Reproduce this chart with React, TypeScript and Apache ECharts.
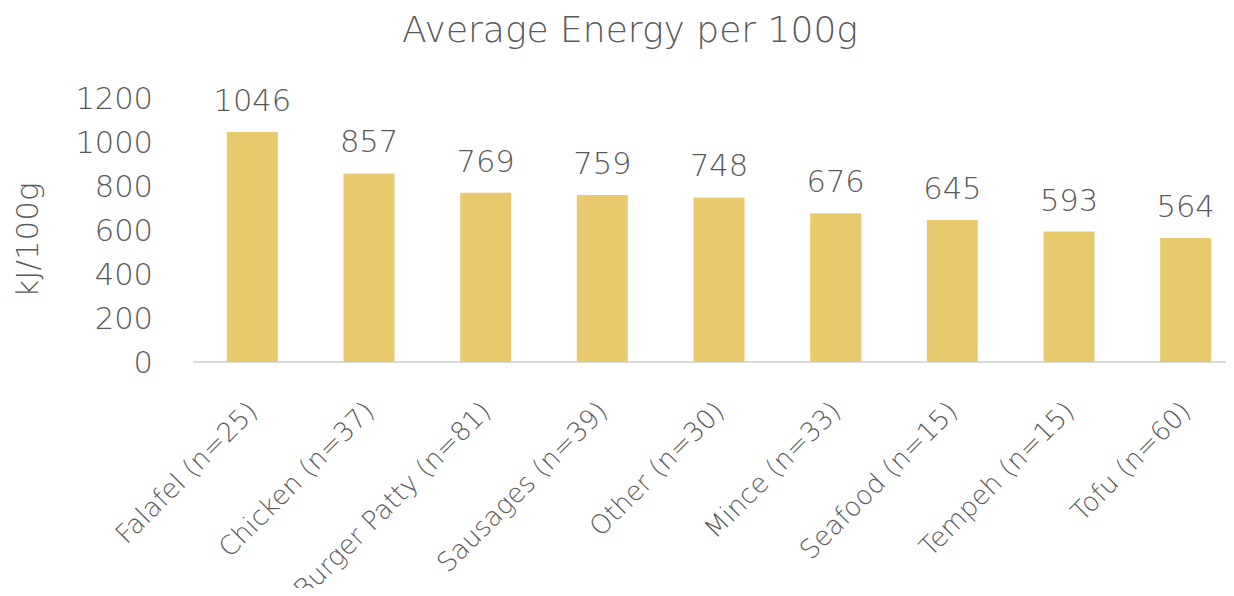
import React, { useEffect, useRef } from "react";
import * as echarts from "echarts";

const categories = [
  "Falafel (n=25)",
  "Chicken (n=37)",
  "Burger Patty (n=81)",
  "Sausages (n=39)",
  "Other (n=30)",
  "Mince (n=33)",
  "Seafood (n=15)",
  "Tempeh (n=15)",
  "Tofu (n=60)",
];
const energy = [1046, 857, 769, 759, 748, 676, 645, 593, 564];
const yTicks = [0, 200, 400, 600, 800, 1000, 1200];

const FONT = "'DejaVu Sans', sans-serif";
const W = 200;
const TEXT = "#595959";

export default function App() {
  const ref = useRef<HTMLDivElement>(null);
  useEffect(() => {
    if (!ref.current) return;
    const chart = echarts.init(ref.current, null, { renderer: "svg" });
    chart.setOption({
      animation: false,
      title: {
        text: "Average Energy per 100g",
        left: 625,
        textAlign: "center",
        top: 6,
        textStyle: { fontFamily: FONT, fontWeight: W, fontSize: 36, color: TEXT },
      },
      grid: { left: 194, right: -10, top: 98, bottom: 234, outerBoundsMode: "none", containLabel: false },
      xAxis: {
        type: "category",
        data: categories,
        axisLine: { lineStyle: { color: "#D9D9D9", width: 2 } },
        axisTick: { show: false },
        axisLabel: {
          rotate: 45,
          interval: 0,
          margin: 44,
          fontFamily: FONT,
          fontWeight: W,
          fontSize: 26.5,
          color: TEXT,
        },
      },
      yAxis: {
        type: "value",
        min: yTicks[0],
        max: yTicks[yTicks.length - 1],
        interval: 200,
        name: "kJ/100g",
        nameLocation: "middle",
        nameGap: 152,
        nameTextStyle: {
          fontFamily: FONT,
          fontWeight: W,
          fontSize: 31,
          color: TEXT,
          padding: [0, 20, 0, 0],
        },
        splitLine: { show: false },
        axisLine: { show: false },
        axisTick: { show: false },
        axisLabel: {
          margin: 41,
          formatter: (v: number) => String(v),
          fontFamily: FONT,
          fontWeight: W,
          fontSize: 30.5,
          color: TEXT,
        },
      },
      series: [
        {
          type: "bar",
          data: energy,
          barWidth: 51,
          itemStyle: { color: "#E8C96E" },
          label: {
            show: true,
            position: "top",
            distance: 16,
            fontFamily: FONT,
            fontWeight: W,
            fontSize: 30.5,
            color: TEXT,
          },
        },
      ],
    });
    return () => chart.dispose();
  }, []);
  return <div ref={ref} style={{ width: 1234, height: 596, margin: -8 }} />;
}
